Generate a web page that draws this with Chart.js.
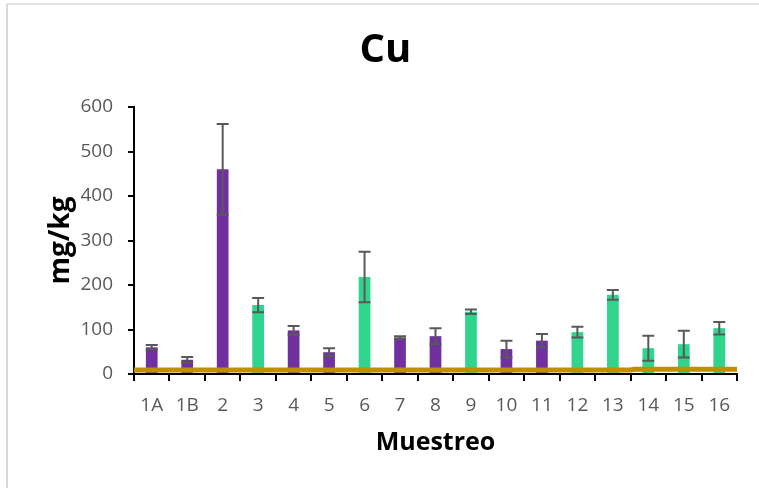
<!DOCTYPE html>
<html>
<head>
<meta charset="utf-8">
<script src="https://cdn.jsdelivr.net/npm/chart.js@4.4.0/dist/chart.umd.min.js"></script>
<style>
  html, body { margin: 0; padding: 0; background: #fff; }
  #wrap { position: relative; width: 759px; height: 488px; }
  #frame { position: absolute; left: 6px; top: 3px; right: 0; bottom: 0;
           border-left: 2px solid #d9d9d9; border-top: 2px solid #e3e3e3; pointer-events: none; }
  canvas { position: absolute; left: 0; top: 0; }
</style>
</head>
<body>
<div id="wrap">
  <canvas id="c" width="759" height="488"></canvas>
  <div id="frame"></div>
</div>
<script>
const categories = ['1A','1B','2','3','4','5','6','7','8','9','10','11','12','13','14','15','16'];
const cuValues   = [60, 32, 460, 155, 98, 49, 218, 82, 85, 140, 56, 75, 94, 178, 58, 67, 103];
const cuErrors   = [5, 6, 102, 16, 10, 9, 57, 3, 18, 5, 19, 15, 12, 11, 28, 30, 14];
const groups     = ['a','a','a','b','a','a','b','a','a','b','a','a','b','b','b','b','b'];
const refX       = [-0.5, 13.5, 13.6, 16.5];
const refY       = [9, 9, 10.5, 10.5];
const yTicks     = [0, 100, 200, 300, 400, 500, 600];

const groupColors = { a: '#7030A0', b: '#2FD48D' };
const FONT = "'Open Sans', Lato, 'Liberation Sans', sans-serif";

const errorBarPlugin = {
  id: 'errorBars',
  afterDatasetsDraw(chart) {
    const ctx = chart.ctx;
    const x = chart.scales.x, y = chart.scales.y;
    ctx.save();
    ctx.strokeStyle = '#595959';
    ctx.lineWidth = 2;
    cuValues.forEach((v, i) => {
      const cx = x.getPixelForValue(i);
      const yt = y.getPixelForValue(v + cuErrors[i]);
      const yb = y.getPixelForValue(v - cuErrors[i]);
      const hw = 6;
      ctx.beginPath();
      ctx.moveTo(cx, yt); ctx.lineTo(cx, yb);
      ctx.moveTo(cx - hw, yt); ctx.lineTo(cx + hw, yt);
      ctx.moveTo(cx - hw, yb); ctx.lineTo(cx + hw, yb);
      ctx.stroke();
    });
    ctx.restore();
  }
};

new Chart(document.getElementById('c'), {
  type: 'bar',
  data: {
    labels: categories,
    datasets: [
      {
        type: 'bar',
        data: cuValues,
        backgroundColor: groups.map(g => groupColors[g]),
        barPercentage: 0.33,
        categoryPercentage: 1,
        grouped: false,
        order: 1
      },
      {
        type: 'line',
        data: refX.map((xv, i) => ({ x: xv, y: refY[i] })),
        xAxisID: 'xl',
        borderColor: '#BF8F00',
        borderWidth: 5,
        pointRadius: 0,
        fill: false,
        order: 0
      }
    ]
  },
  options: {
    responsive: false,
    animation: false,
    layout: { padding: { left: 34, right: 22, top: 0, bottom: 30 } },
    plugins: {
      legend: { display: false },
      tooltip: { enabled: false },
      title: {
        display: true,
        text: 'Cu',
        color: '#000',
        font: { family: FONT, size: 40, weight: 'bold' },
        padding: { top: 27, bottom: 32 }
      }
    },
    scales: {
      x: {
        type: 'category',
        offset: true,
        grid: { display: true, offset: true, drawOnChartArea: false, drawTicks: true,
                tickLength: 7, color: '#000', lineWidth: 2 },
        border: { display: true, color: '#000', width: 2 },
        ticks: { color: '#595959', font: { family: FONT, size: 19 }, padding: 13, maxRotation: 0, autoSkip: false },
        title: { display: true, text: 'Muestreo', color: '#000',
                 font: { family: FONT, size: 25, weight: 'bold' }, padding: { top: 4, bottom: 0 } },
        afterFit(s) { s.height = 84; }
      },
      xl: {
        type: 'linear',
        display: false,
        offset: false,
        min: -0.5,
        max: 16.5
      },
      y: {
        type: 'linear',
        min: 0,
        max: 600,
        afterBuildTicks(s) { s.ticks = yTicks.map(v => ({ value: v })); },
        grid: { display: true, drawOnChartArea: false, drawTicks: true, tickLength: 6,
                color: '#000', lineWidth: 2 },
        border: { display: true, color: '#000', width: 2 },
        ticks: { color: '#595959', font: { family: FONT, size: 19 }, padding: 15 },
        title: { display: true, text: 'mg/kg', color: '#000',
                 font: { family: FONT, size: 28, weight: 'bold' }, padding: { top: 10, bottom: 0 } },
        afterFit(s) { s.width = 100; }
      }
    }
  },
  plugins: [errorBarPlugin]
});
</script>
</body>
</html>
